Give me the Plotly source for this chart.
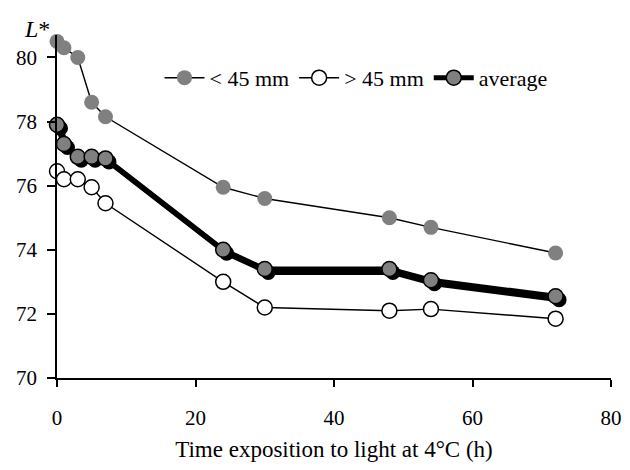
import plotly.graph_objects as go

time_h = [0, 1, 3, 5, 7, 24, 30, 48, 54, 72]
small_45 = [80.5, 80.3, 80.0, 78.6, 78.15, 75.95, 75.6, 75.0, 74.7, 73.9]
large_45 = [76.45, 76.2, 76.2, 75.95, 75.45, 73.0, 72.2, 72.1, 72.15, 71.85]
average = [77.9, 77.3, 76.9, 76.9, 76.85, 74.0, 73.4, 73.4, 73.05, 72.55]
x_ticks = [0, 20, 40, 60, 80]
y_ticks = [70, 72, 74, 76, 78, 80]

FONT = "Liberation Serif"
W, H = 614, 454
L, R, T, B = 49, 11, 27, 84
pw, ph = W - L - R, H - T - B
xr = [0, 80]
yr = [70, 80.7]
# shadow offset (pixels) converted into axis units
sx = 3.5 * (xr[1] - xr[0]) / pw
sy = 3.5 * (yr[1] - yr[0]) / ph

MS = 15
fig = go.Figure()
fig.add_trace(go.Scatter(x=time_h, y=average, mode="lines+markers", xaxis="x", yaxis="y",
                         line=dict(color="black", width=5),
                         marker=dict(size=MS, color="black"), showlegend=False, cliponaxis=False,
                         hoverinfo="skip"))
fig.add_trace(go.Scatter(x=time_h, y=small_45, mode="lines+markers", name="< 45 mm",
                         xaxis="x2", yaxis="y2", cliponaxis=False,
                         line=dict(color="black", width=1.4),
                         marker=dict(size=MS, color="#808080", line=dict(width=0))))
fig.add_trace(go.Scatter(x=time_h, y=large_45, mode="lines+markers", name="> 45 mm",
                         xaxis="x2", yaxis="y2", cliponaxis=False,
                         line=dict(color="black", width=1.4),
                         marker=dict(size=MS, color="white", line=dict(width=1.5, color="black"))))
fig.add_trace(go.Scatter(x=time_h, y=average, mode="lines+markers", name="average",
                         xaxis="x2", yaxis="y2", cliponaxis=False,
                         line=dict(color="black", width=5),
                         marker=dict(size=MS, color="#808080", line=dict(width=1.5, color="black"))))

tf = dict(family=FONT, size=21, color="black")
fig.update_layout(
    width=W, height=H, margin=dict(l=L, r=R, t=T, b=B),
    paper_bgcolor="white", plot_bgcolor="rgba(0,0,0,0)",
    font=dict(family=FONT, size=21, color="black"),
    xaxis=dict(domain=[0, 1], range=[xr[0] - sx, xr[1] - sx], visible=False, automargin=False),
    yaxis=dict(domain=[0, 1], range=[yr[0] + sy, yr[1] + sy], visible=False, automargin=False),
    xaxis2=dict(domain=[0, 1], range=xr, anchor="y2", tickvals=x_ticks, automargin=False,
                showline=True, linecolor="black", linewidth=1.5, ticks="outside",
                ticklen=7, tickcolor="black", tickwidth=1.5, showgrid=False, zeroline=False,
                ticklabelstandoff=13, tickfont=tf, ticklabeloverflow="allow",
                title=dict(text="Time exposition to light at 4°C (h)", standoff=22,
                           font=dict(family=FONT, size=23))),
    yaxis2=dict(domain=[0, 1], range=yr, anchor="x2", tickvals=y_ticks, automargin=False,
                showline=True, linecolor="black", linewidth=1.5, ticks="outside",
                ticklen=8, tickcolor="black", tickwidth=1.5, showgrid=False, zeroline=False,
                ticklabelstandoff=6, tickfont=tf),
    legend=dict(orientation="h", x=0.185, y=0.875, xanchor="left", yanchor="middle",
                bgcolor="rgba(0,0,0,0)", font=dict(family=FONT, size=22), itemwidth=40,
                tracegroupgap=0),
    annotations=[dict(text="<i>L</i>*", xref="paper", yref="paper", x=-0.0625, y=0.975,
                      xanchor="left", yanchor="bottom", showarrow=False,
                      font=dict(family=FONT, size=24))],
)
fig.write_html("out.html")
